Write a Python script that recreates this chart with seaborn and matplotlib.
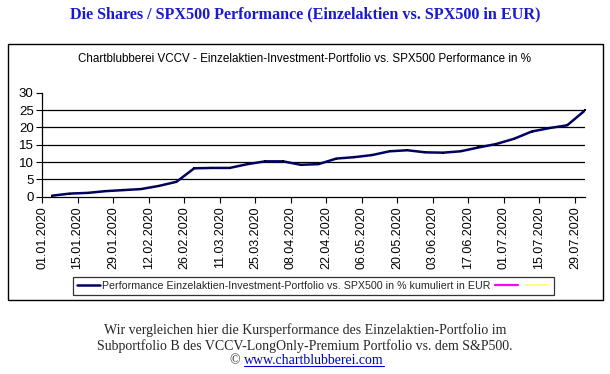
import matplotlib as mpl
mpl.use("Agg")
import matplotlib.pyplot as plt
import matplotlib.dates as mdates
import seaborn as sns
import pandas as pd
import numpy as np
from matplotlib.lines import Line2D
from matplotlib.patches import Rectangle

# weekly values (Sundays), performance in %
dates = pd.date_range("2020-01-05", "2020-08-02", freq="7D")
perf = [0.3, 0.9, 1.1, 1.6, 1.9, 2.2, 3.1, 4.3, 8.2, 8.3, 8.3, 9.4, 10.2, 10.2,
        9.2, 9.4, 11.0, 11.4, 12.0, 13.1, 13.4, 12.8, 12.7, 13.1, 14.2, 15.2,
        16.7, 18.8, 19.8, 20.6, 24.9]
tick_dates = pd.date_range("2020-01-01", "2020-07-29", freq="14D")

title = "Die Shares / SPX500 Performance (Einzelaktien vs. SPX500 in EUR)"
subtitle = "Chartblubberei VCCV - Einzelaktien-Investment-Portfolio vs. SPX500 Performance in %"
legend_label = "Performance Einzelaktien-Investment-Portfolio vs. SPX500 in % kumuliert in EUR"
footer1 = "Wir vergleichen hier die Kursperformance des Einzelaktien-Portfolio im"
footer2 = "Subportfolio B des VCCV-LongOnly-Premium Portfolio vs. dem S&P500."
link = "www.chartblubberei.com"

df = pd.DataFrame({"Datum": dates, "Performance": perf})

sns.set_style("white")
plt.rcParams["font.family"] = ["Liberation Sans", "DejaVu Sans"]

fig = plt.figure(figsize=(6.1, 3.74), dpi=100)
ax = fig.add_axes([42 / 610, 1 - 196.7 / 374, 543 / 610, 104 / 374])

sns.lineplot(data=df, x="Datum", y="Performance", ax=ax, color="#000066",
             linewidth=1.8, marker="s", markersize=1.6, markeredgewidth=0,
             markerfacecolor="black", legend=False)

ax.set_xlim(pd.Timestamp("2020-01-01"), pd.Timestamp("2020-08-02"))
ax.set_ylim(0, 30)
ax.set_yticks(range(0, 31, 5))
ax.set_xticks(tick_dates)
ax.xaxis.set_major_formatter(mdates.DateFormatter("%d.%m.%Y"))
for y in range(5, 30, 5):
    ax.axhline(y, color="black", linewidth=0.9, zorder=0)
ax.set_xlabel("")
ax.set_ylabel("")
ax.tick_params(axis="x", labelrotation=90, labelsize=9, length=4, width=0.8,
               direction="out", pad=3, bottom=True, colors="black")
ax.tick_params(axis="y", labelsize=9.5, length=4, width=0.8, direction="out",
               pad=2, left=True, colors="black")
for s in ["top", "right"]:
    ax.spines[s].set_visible(False)
for s in ["left", "bottom"]:
    ax.spines[s].set_color("black")
    ax.spines[s].set_linewidth(0.9)

# chart frame
fig.patches.append(Rectangle((8 / 610, 1 - 299.5 / 374), 594.5 / 610, 255.5 / 374,
                             transform=fig.transFigure, fill=False,
                             edgecolor="black", linewidth=1.0))

fig.text(0.5, 1 - 14 / 374, title, ha="center", va="center", fontsize=11.6,
         fontweight="bold", color="#1a1acc", family="Liberation Serif")
fig.text(0.5, 1 - 59 / 374, subtitle, ha="center", va="center", fontsize=8.4,
         color="black")

handles = [Line2D([], [], color="#000066", linewidth=1.8),
           Line2D([], [], color="#ff00ff", linewidth=1.6),
           Line2D([], [], color="#ffff66", linewidth=1.2)]
leg = fig.legend(handles, [legend_label, "", ""], loc="center",
                 bbox_to_anchor=(313.5 / 610, 1 - 285.8 / 374), ncol=3,
                 fontsize=7.7, frameon=True, fancybox=False, handlelength=2.2,
                 handletextpad=0.2, columnspacing=0.4, borderpad=0.35,
                 borderaxespad=0)
leg.get_frame().set_edgecolor("black")
leg.get_frame().set_linewidth(0.9)

fig.text(0.5, 1 - 330 / 374, footer1, ha="center", va="center", fontsize=10,
         family="Liberation Serif")
fig.text(0.5, 1 - 346 / 374, footer2, ha="center", va="center", fontsize=10,
         family="Liberation Serif")
fig.text(244 / 610, 1 - 361 / 374, "\u00a9 ", ha="right", va="center",
         fontsize=10, family="Liberation Serif")
lt = fig.text(244 / 610, 1 - 361 / 374, link, ha="left", va="center",
              fontsize=10, family="Liberation Serif", color="#0000cc")

fig.canvas.draw()
bb = lt.get_window_extent().transformed(fig.transFigure.inverted())
fig.lines.append(Line2D([bb.x0, bb.x1], [bb.y0 + 0.004, bb.y0 + 0.004],
                        transform=fig.transFigure, color="#0000cc", linewidth=0.8))

fig.savefig("out.png", dpi=100)
